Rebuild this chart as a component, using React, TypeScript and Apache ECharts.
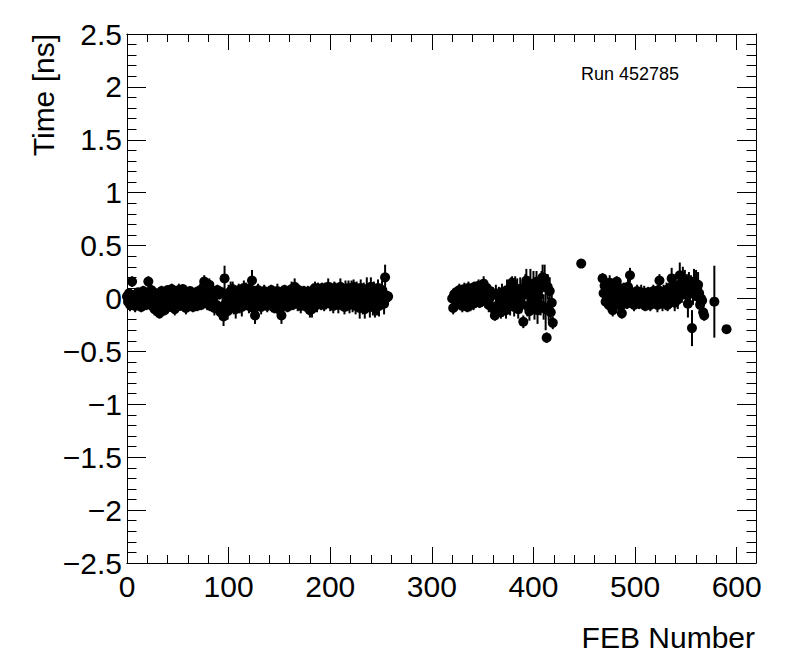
import React, { useEffect, useRef } from "react";
import * as echarts from "echarts";

// ---- data (FEB number -> mean time [ns] with error) ----
const xMin = 0;
const xMax = 619;
const yMin = -2.5;
const yMax = 2.5;
const xTickLabels = [0, 100, 200, 300, 400, 500, 600];

const seg1Start = 0;
const seg1Time = [
  0.02, -0.03, 0.05, -0.06, 0.03, 0.16, -0.04, 0.01, -0.07, 0.04,
  -0.02, 0.06, -0.05, 0.03, -0.08, 0.02, 0.07, -0.03, 0.04, -0.06,
  0.05, 0.16, 0.03, -0.04, 0.08, -0.07, 0.02, -0.1, 0.05, -0.03,
  -0.12, 0.04, -0.14, -0.06, 0.07, -0.09, 0.03, -0.11, 0.06, -0.02,
  0.08, -0.05, 0.04, -0.08, 0.09, -0.03, 0.06, -0.1, 0.02, 0.07,
  -0.04, 0.08, -0.07, 0.05, -0.02, 0.09, -0.06, 0.03, -0.09, 0.06,
  0.02, -0.05, 0.07, -0.03, 0.05, -0.08, 0.04, -0.02, 0.06, -0.07,
  0.03, -0.04, 0.08, -0.06, 0.05, 0.01, 0.16, -0.03, 0.06, -0.05,
  0.04, 0.13, -0.07, 0.05, -0.04, 0.07, -0.09, 0.03, -0.06, 0.08,
  -0.1, 0.04, -0.13, 0.06, -0.08, -0.17, 0.19, -0.05, 0.02, -0.12,
  0.05, -0.09, 0.07, -0.04, 0.09, -0.07, 0.03, -0.1, 0.06, -0.03,
  0.08, -0.06, 0.04, -0.08, 0.02, 0.1, -0.05, 0.07, -0.03, 0.05,
  -0.07, 0.09, -0.04, 0.17, -0.09, 0.05, -0.16, 0.03, -0.06, 0.08,
  -0.03, 0.06, -0.08, 0.04, -0.05, 0.07, -0.02, 0.05, -0.07, 0.03,
  0.06, -0.04, 0.08, -0.06, 0.02, -0.09, 0.05, -0.03, 0.07, -0.1,
  0.04, -0.07, -0.16, 0.06, -0.05, 0.08, -0.02, 0.05, -0.08, 0.03,
  0.07, -0.04, 0.09, -0.06, 0.04, 0.11, -0.03, 0.06, -0.05, 0.08,
  0.02, -0.07, 0.05, -0.03, 0.07, -0.05, 0.04, -0.08, 0.06, -0.02,
  -0.11, 0.05, -0.1, 0.08, -0.04, 0.1, 0.03, -0.06, 0.09, 0.01,
  0.07, -0.04, 0.1, 0.02, -0.06, 0.08, 0.04, -0.03, 0.11, 0.05,
  -0.05, 0.09, 0.03, -0.07, 0.1, 0.06, -0.02, 0.08, -0.06, 0.04,
  0.11, -0.04, 0.07, 0.02, -0.08, 0.09, 0.05, -0.03, 0.1, -0.06,
  0.04, 0.08, -0.05, 0.11, 0.03, -0.07, 0.09, -0.02, 0.06, -0.09,
  0.1, 0.02, -0.05, 0.08, -0.1, 0.04, 0.09, -0.03, 0.06, -0.08,
  0.11, 0.03, -0.06, 0.08, -0.09, 0.05, -0.04, 0.1, -0.07, 0.06,
  -0.02, 0.08, 0.04, -0.05, 0.2, 0.03, 0.01, 0.02,
];
const seg1Err = [
  0.04, 0.05, 0.04, 0.06, 0.05, 0.05, 0.04, 0.05, 0.06, 0.04,
  0.05, 0.04, 0.06, 0.05, 0.05, 0.04, 0.05, 0.06, 0.04, 0.05,
  0.04, 0.05, 0.05, 0.06, 0.04, 0.05, 0.04, 0.06, 0.05, 0.04,
  0.05, 0.04, 0.05, 0.06, 0.05, 0.04, 0.05, 0.05, 0.04, 0.06,
  0.04, 0.05, 0.06, 0.04, 0.05, 0.05, 0.04, 0.06, 0.05, 0.04,
  0.05, 0.06, 0.04, 0.05, 0.06, 0.04, 0.05, 0.05, 0.06, 0.04,
  0.06, 0.05, 0.04, 0.05, 0.06, 0.05, 0.04, 0.06, 0.05, 0.05,
  0.05, 0.04, 0.06, 0.05, 0.05, 0.04, 0.06, 0.05, 0.04, 0.06,
  0.05, 0.06, 0.05, 0.04, 0.06, 0.05, 0.07, 0.05, 0.06, 0.05,
  0.06, 0.05, 0.07, 0.05, 0.08, 0.09, 0.12, 0.06, 0.05, 0.08,
  0.08, 0.06, 0.09, 0.05, 0.07, 0.08, 0.06, 0.09, 0.05, 0.07,
  0.06, 0.08, 0.05, 0.09, 0.06, 0.07, 0.05, 0.08, 0.06, 0.09,
  0.07, 0.06, 0.08, 0.1, 0.06, 0.07, 0.08, 0.05, 0.09, 0.06,
  0.06, 0.05, 0.07, 0.06, 0.05, 0.06, 0.07, 0.05, 0.06, 0.05,
  0.05, 0.06, 0.05, 0.07, 0.06, 0.05, 0.06, 0.05, 0.07, 0.06,
  0.06, 0.05, 0.08, 0.06, 0.07, 0.05, 0.06, 0.07, 0.05, 0.06,
  0.05, 0.06, 0.07, 0.05, 0.06, 0.08, 0.05, 0.06, 0.07, 0.05,
  0.06, 0.07, 0.05, 0.06, 0.05, 0.07, 0.06, 0.05, 0.06, 0.07,
  0.07, 0.06, 0.08, 0.05, 0.07, 0.06, 0.08, 0.07, 0.06, 0.05,
  0.06, 0.07, 0.05, 0.08, 0.06, 0.07, 0.05, 0.06, 0.08, 0.07,
  0.07, 0.06, 0.08, 0.07, 0.06, 0.09, 0.07, 0.06, 0.08, 0.07,
  0.08, 0.07, 0.06, 0.09, 0.07, 0.08, 0.06, 0.09, 0.07, 0.08,
  0.07, 0.09, 0.08, 0.07, 0.1, 0.08, 0.07, 0.09, 0.08, 0.1,
  0.08, 0.06, 0.1, 0.07, 0.09, 0.06, 0.11, 0.08, 0.07, 0.1,
  0.09, 0.07, 0.1, 0.08, 0.09, 0.07, 0.12, 0.08, 0.1, 0.07,
  0.06, 0.09, 0.08, 0.1, 0.12, 0.07, 0.06, 0.05,
];

const seg2Start = 320;
const seg2Time = [
  0.0, -0.09, 0.04, -0.02, 0.06, -0.05, 0.03, 0.08, -0.04, 0.07,
  -0.07, 0.05, 0.09, -0.03, 0.06, -0.08, 0.1, 0.02, -0.06, 0.08,
  0.04, -0.05, 0.11, 0.06, -0.02, 0.09, 0.12, -0.04, 0.07, 0.1,
  0.03, 0.14, 0.08, -0.03, 0.1, 0.05, -0.06, 0.07, 0.02, -0.08,
  0.04, -0.1, -0.16, 0.05, -0.07, -0.12, 0.03, -0.04, -0.13, 0.06,
  -0.09, 0.02, -0.05, -0.11, 0.08, -0.02, 0.04, -0.06, 0.12, 0.15,
  0.05, -0.08, 0.1, -0.03, 0.07, -0.1, 0.02, 0.09, -0.05, 0.06,
  -0.22, 0.04, 0.11, 0.17, -0.07, 0.08, -0.12, 0.14, 0.03, -0.04,
  0.12, -0.09, 0.06, 0.16, -0.11, 0.02, 0.09, -0.06, 0.13, 0.2,
  -0.08, 0.19, -0.1, -0.37, 0.11, -0.1, 0.07, -0.13, -0.04, -0.23,
];
const seg2Err = [
  0.05, 0.06, 0.05, 0.06, 0.05, 0.06, 0.05, 0.06, 0.05, 0.06,
  0.06, 0.05, 0.06, 0.05, 0.07, 0.05, 0.06, 0.05, 0.06, 0.05,
  0.05, 0.06, 0.05, 0.06, 0.05, 0.07, 0.06, 0.05, 0.06, 0.05,
  0.06, 0.07, 0.05, 0.06, 0.05, 0.06, 0.07, 0.05, 0.06, 0.06,
  0.07, 0.06, 0.05, 0.08, 0.07, 0.06, 0.08, 0.07, 0.06, 0.08,
  0.08, 0.09, 0.07, 0.08, 0.1, 0.08, 0.09, 0.1, 0.08, 0.06,
  0.1, 0.09, 0.11, 0.08, 0.12, 0.09, 0.1, 0.11, 0.09, 0.1,
  0.06, 0.1, 0.12, 0.11, 0.1, 0.13, 0.09, 0.14, 0.11, 0.1,
  0.14, 0.11, 0.12, 0.1, 0.13, 0.11, 0.12, 0.1, 0.13, 0.12,
  0.12, 0.13, 0.2, 0.05, 0.12, 0.11, 0.13, 0.1, 0.12, 0.06,
];

const seg3Start = 468;
const seg3Time = [
  0.19, 0.05, 0.12, -0.03, 0.08, 0.02, -0.06, 0.15, 0.04, -0.08,
  -0.11, 0.06, 0.01, 0.09, 0.16, -0.04, 0.07, 0.03, -0.07, -0.14,
  0.05, 0.1, -0.02, 0.08, -0.05, 0.11, 0.04, 0.22, -0.03, 0.06,
  0.02, -0.06, 0.04, -0.02, 0.07, 0.0, -0.05, 0.03, 0.06, -0.04,
  0.01, 0.05, -0.07, 0.03, -0.03, 0.06, 0.0, -0.06, 0.04, -0.02,
  0.07, -0.04, 0.02, 0.05, -0.06, 0.08, 0.17, -0.01, 0.04, -0.05,
  0.06, 0.02, -0.03, 0.08, -0.06, 0.05, 0.1, -0.02, 0.19, 0.03,
  0.07, -0.04, 0.12, 0.05, -0.01, 0.09, 0.22, 0.14, 0.06, 0.18,
  0.1, 0.17, 0.04, 0.12, -0.05, 0.15, 0.08, 0.11, -0.28, 0.06,
  0.16, 0.09, 0.14, 0.02, 0.13, 0.05, -0.06, 0.0, -0.02, -0.13,
  -0.16,
];
const seg3Err = [
  0.05, 0.06, 0.07, 0.05, 0.06, 0.05, 0.06, 0.07, 0.05, 0.06,
  0.06, 0.07, 0.05, 0.06, 0.05, 0.06, 0.07, 0.05, 0.06, 0.05,
  0.06, 0.05, 0.07, 0.06, 0.05, 0.08, 0.06, 0.07, 0.05, 0.06,
  0.05, 0.06, 0.07, 0.05, 0.06, 0.08, 0.05, 0.06, 0.07, 0.05,
  0.06, 0.07, 0.05, 0.06, 0.08, 0.05, 0.07, 0.06, 0.05, 0.07,
  0.06, 0.05, 0.08, 0.06, 0.07, 0.05, 0.06, 0.08, 0.06, 0.07,
  0.07, 0.06, 0.08, 0.07, 0.06, 0.09, 0.08, 0.07, 0.1, 0.08,
  0.09, 0.08, 0.1, 0.11, 0.09, 0.1, 0.12, 0.11, 0.1, 0.12,
  0.11, 0.1, 0.12, 0.11, 0.13, 0.1, 0.12, 0.11, 0.17, 0.12,
  0.12, 0.11, 0.13, 0.1, 0.12, 0.11, 0.1, 0.12, 0.1, 0.06,
  0.05,
];

const extraFeb = [447, 578, 590];
const extraTime = [0.33, -0.03, -0.29];
const extraErr = [0.02, 0.34, 0.02];

const runLabel = "Run 452785";
const xTitle = "FEB Number";
const yTitle = "Time [ns]";

function segment(start: number, vals: number[], errs: number[]) {
  return vals.map((v, i) => [start + i, v, errs[i] ?? 0.05]);
}

export default function App() {
  const ref = useRef<HTMLDivElement>(null);
  useEffect(() => {
    if (!ref.current) return;
    const chart = echarts.init(ref.current, null, { renderer: "svg" });
    const pts: number[][] = [
      ...segment(seg1Start, seg1Time, seg1Err),
      ...segment(seg2Start, seg2Time, seg2Err),
      ...segment(seg3Start, seg3Time, seg3Err),
      ...extraFeb.map((f, i) => [f, extraTime[i], extraErr[i]]),
    ];
    const font = "'Liberation Sans', Arial, Helvetica, sans-serif";
    const ls = { color: "#000", width: 1 };
    const xBase = {
      type: "value",
      min: xMin,
      max: xMax,
      splitLine: { show: false },
      axisLine: { show: true, onZero: false, lineStyle: ls },
    };
    const fmtY = (v: number) => {
      if (Math.abs(v) < 1e-9) return "0";
      const s = String(Math.round(Math.abs(v) * 10) / 10);
      return v < 0 ? "\u2212" + s : s;
    };
    const yBase = {
      type: "value",
      min: yMin,
      max: yMax,
      interval: 0.5,
      splitLine: { show: false },
      minorSplitLine: { show: false },
      axisLine: { show: true, onZero: false, lineStyle: ls },
      axisTick: { show: true, inside: true, length: 19, lineStyle: ls },
      minorTick: { show: true, splitNumber: 5, length: 9.5, lineStyle: ls },
    };
    chart.setOption({
      animation: false,
      grid: { left: 127, right: 40, top: 34, bottom: 109, containLabel: false },
      xAxis: [
        {
          ...xBase,
          position: "bottom",
          interval: 100,
          axisTick: { show: true, inside: true, length: 16, lineStyle: ls },
          axisLabel: {
            show: true,
            showMaxLabel: false,
            formatter: (v: number) => (xTickLabels.includes(Math.round(v)) && Math.abs(v - Math.round(v)) < 1e-6 ? String(Math.round(v)) : ""),
            fontSize: 30,
            color: "#000",
            fontFamily: font,
            margin: 8,
          },
        },
        {
          ...xBase,
          position: "bottom",
          interval: 20,
          axisTick: { show: true, inside: true, length: 8, lineStyle: ls },
          axisLabel: { show: false },
        },
        {
          ...xBase,
          position: "top",
          interval: 100,
          axisTick: { show: true, inside: true, length: 16, lineStyle: ls },
          axisLabel: { show: false },
        },
        {
          ...xBase,
          position: "top",
          interval: 20,
          axisTick: { show: true, inside: true, length: 8, lineStyle: ls },
          axisLabel: { show: false },
        },
      ],
      yAxis: [
        {
          ...yBase,
          position: "left",
          axisLabel: {
            show: true,
            formatter: fmtY,
            fontSize: 30,
            color: "#000",
            fontFamily: font,
            margin: 5,
          },
        },
        {
          ...yBase,
          position: "right",
          axisLabel: { show: false },
        },
      ],
      series: [
        {
          type: "custom",
          xAxisIndex: 0,
          yAxisIndex: 0,
          data: pts,
          encode: { x: 0, y: 1 },
          clip: true,
          silent: true,
          renderItem: (params: any, api: any) => {
            const x = api.value(0);
            const y = api.value(1);
            const e = api.value(2);
            const p1 = api.coord([x, y - e]);
            const p2 = api.coord([x, y + e]);
            return {
              type: "line",
              shape: { x1: p1[0], y1: p1[1], x2: p2[0], y2: p2[1] },
              style: { stroke: "#000", lineWidth: 2 },
            };
          },
        },
        {
          type: "scatter",
          xAxisIndex: 0,
          yAxisIndex: 0,
          data: pts.map((p) => [p[0], p[1]]),
          symbol: "circle",
          symbolSize: 10,
          itemStyle: { color: "#000", opacity: 1 },
          silent: true,
        },
      ],
      graphic: [
        {
          type: "text",
          right: 41,
          top: 622,
          style: { text: xTitle, fontSize: 30, fontFamily: font, fill: "#000" },
        },
        {
          type: "text",
          x: 43,
          y: 34,
          rotation: Math.PI / 2,
          style: {
            text: yTitle,
            fontSize: 30,
            fontFamily: font,
            fill: "#000",
            align: "right",
            verticalAlign: "middle",
          },
        },
        {
          type: "text",
          x: 581,
          y: 74,
          style: {
            text: runLabel,
            fontSize: 18,
            fontFamily: font,
            fill: "#000",
            align: "left",
            verticalAlign: "middle",
          },
        },
      ],
    });
    return () => chart.dispose();
  }, []);
  return (
    <div
      ref={ref}
      style={{ position: "absolute", left: 0, top: 0, width: 796, height: 672, background: "#fff" }}
    />
  );
}
